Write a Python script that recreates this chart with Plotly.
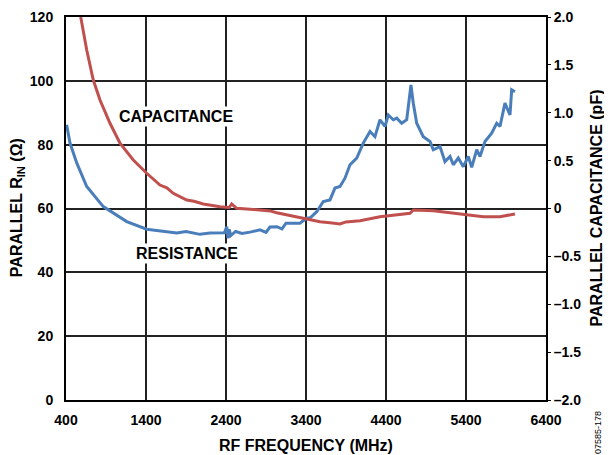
import plotly.graph_objects as go

# parallel resistance (ohm), left axis
res_freq = [408, 450, 534, 659, 866, 1159, 1409, 1600, 1784, 1900, 2075, 2200, 2380, 2409, 2425,
            2440, 2460, 2520, 2600, 2700, 2825, 2900, 2950, 3034, 3100, 3150, 3241, 3325, 3409,
            3450, 3534, 3616, 3700, 3762, 3825, 3887, 3950, 4034, 4116, 4200, 4262, 4325, 4387,
            4429, 4491, 4534, 4596, 4659, 4712, 4741, 4784, 4866, 4950, 4991, 5075, 5137, 5200,
            5241, 5304, 5366, 5429, 5471, 5534, 5575, 5637, 5721, 5784, 5825, 5887, 5950, 5971,
            6012]
res_ohm = [86.2, 80.5, 74.3, 66.9, 60.6, 55.9, 53.5, 52.8, 52.3, 52.8, 51.9, 52.3, 52.4, 54.3, 50.7,
           53.5, 51.5, 52.8, 52.2, 52.6, 53.3, 52.5, 54.2, 54.3, 53.6, 55.4, 55.4, 55.4, 57.0,
           57.0, 59.0, 62.2, 62.7, 66.4, 66.9, 69.5, 73.7, 75.8, 80.5, 84.1, 82.5, 87.8, 85.7,
           89.3, 87.8, 88.3, 86.7, 87.8, 98.7, 93.0, 86.7, 82.5, 81.0, 78.4, 79.4, 74.7, 76.3,
           73.7, 75.8, 73.1, 76.3, 72.9, 78.4, 76.3, 81.0, 83.6, 86.7, 85.7, 93.0, 89.3, 97.2,
           96.6]

# parallel capacitance (pF), right axis
cap_freq = [584, 659, 741, 825, 950, 1075, 1241, 1409, 1575, 1660, 1741, 1909, 2000, 2116, 2325,
            2440, 2471, 2534, 2700, 2825, 2950, 3034, 3241, 3409, 3575, 3700, 3825, 3900, 4075,
            4325, 4575, 4700, 4741, 4991, 5200, 5409, 5616, 5825, 5950, 6012]
cap_pf = [2.00, 1.655, 1.342, 1.133, 0.890, 0.681, 0.507, 0.368, 0.245, 0.215, 0.159, 0.089, 0.075,
          0.047, 0.019, 0.010, 0.047, 0.002, -0.008, -0.016, -0.025, -0.044, -0.078, -0.113,
          -0.138, -0.150, -0.162, -0.140, -0.127, -0.086, -0.057, -0.050, -0.016, -0.023,
          -0.044, -0.068, -0.086, -0.086, -0.070, -0.057]

x_ticks = [400, 1400, 2400, 3400, 4400, 5400, 6400]
left_ticks = [0, 20, 40, 60, 80, 100, 120]
right_ticks = [-2.0, -1.5, -1.0, -0.5, 0, 0.5, 1.0, 1.5, 2.0]
right_labels = ["–2.0", "–1.5", "–1.0", "–0.5", "0", "0.5", "1.0", "1.5", "2.0"]

FONT = "Liberation Sans, Arial, sans-serif"
tick_font = dict(family=FONT, size=14, color="black")
title_font = dict(family=FONT, size=16, color="black")

fig = go.Figure()

fig.add_trace(go.Scatter(x=cap_freq, y=cap_pf, yaxis="y2", mode="lines",
                         line=dict(color="#C0504D", width=3), showlegend=False))
fig.add_trace(go.Scatter(x=res_freq, y=res_ohm, mode="lines",
                         line=dict(color="#4A7EBB", width=3), showlegend=False))

fig.add_annotation(x=1769, y=88.8, text="<b>CAPACITANCE</b>", showarrow=False,
                   bgcolor="white", font=dict(family=FONT, size=16, color="black"))
fig.add_annotation(x=1912, y=46, text="<b>RESISTANCE</b>", showarrow=False,
                   bgcolor="white", font=dict(family=FONT, size=16, color="black"))

# axis titles placed by hand (paper = plot area)
centered = dict(xref="paper", yref="paper", xanchor="center", yanchor="middle", showarrow=False)
fig.add_annotation(x=0.501, y=-0.12, text="<b>RF FREQUENCY (MHz)</b>", font=title_font, **centered)
fig.add_annotation(x=-0.102, y=0.501, textangle=-90, text="<b>PARALLEL R<sub>IN</sub> (Ω)</b>",
                   font=title_font, **centered)
fig.add_annotation(x=1.105, y=0.501, textangle=-90, text="<b>PARALLEL CAPACITANCE (pF)</b>",
                   font=title_font, **centered)
fig.add_annotation(x=1.108, y=-0.084, textangle=-90, text="07585-178",
                   font=dict(family=FONT, size=9, color="black"), **centered)

# the page body adds an 8 px offset, so the figure is shrunk to fit the window
fig.update_layout(
    width=604, height=447,
    margin=dict(l=58, r=66, t=9, b=55, autoexpand=False),
    plot_bgcolor="white", paper_bgcolor="white",
    xaxis=dict(range=[400, 6400], tickvals=x_ticks, ticktext=[f"<b>{v}</b>" for v in x_ticks],
               tickfont=tick_font, showgrid=True, gridcolor="#222", gridwidth=1.5,
               showline=True, linecolor="black", linewidth=2, mirror=True, zeroline=False,
               ticks="", ticklabelstandoff=6, automargin=False),
    yaxis=dict(range=[0, 120], tickvals=left_ticks, ticktext=[f"<b>{v}</b>" for v in left_ticks],
               tickfont=tick_font, showgrid=True, gridcolor="#222", gridwidth=1.5,
               showline=True, linecolor="black", linewidth=2, mirror=True, zeroline=False,
               ticks="", ticklabelstandoff=8, automargin=False),
    yaxis2=dict(range=[-2, 2], overlaying="y", side="right", tickvals=right_ticks,
                ticktext=[f"<b>{t}</b>" for t in right_labels], tickfont=tick_font,
                showgrid=False, zeroline=False, ticks="outside", ticklen=4, tickwidth=1,
                tickcolor="black", automargin=False),
    # inner half of the crossing ticks on the right axis
    yaxis3=dict(range=[-2, 2], overlaying="y", side="right", tickvals=right_ticks,
                showticklabels=False, showgrid=False, zeroline=False, ticks="inside",
                ticklen=4, tickwidth=1, tickcolor="black", automargin=False),
)

fig.write_html("out.html")
